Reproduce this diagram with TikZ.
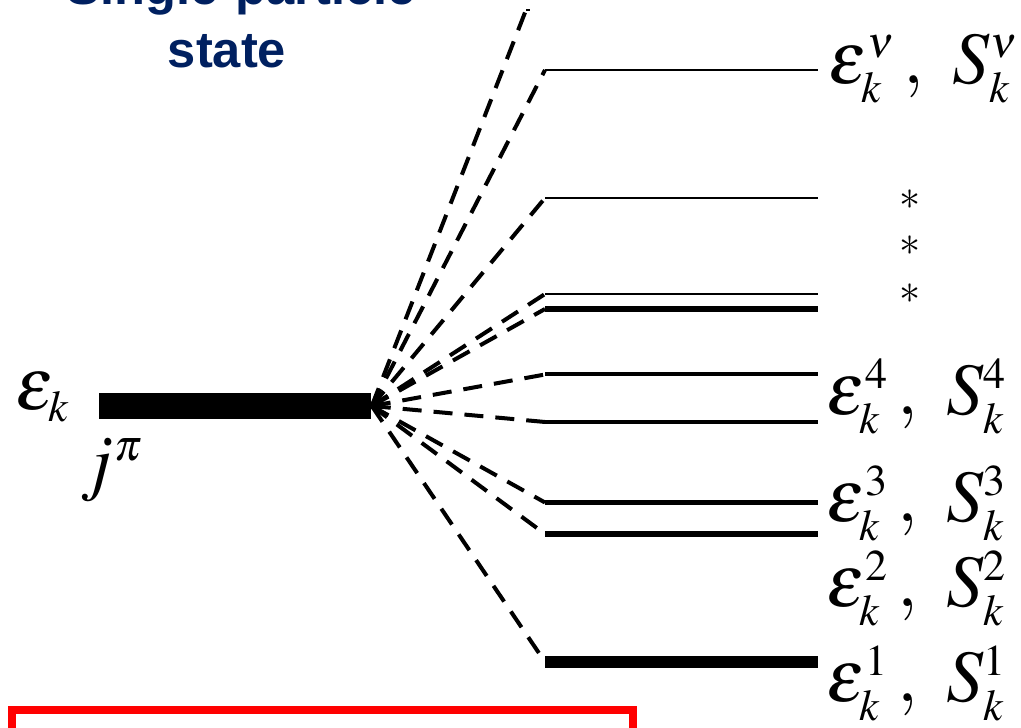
\documentclass[tikz,border=0pt]{standalone}
\usepackage{mathptmx}
\usepackage{fontspec}
\newfontfamily\titlefont{Liberation Sans}
\DeclareMathSizes{21}{21}{12.5}{9}
\definecolor{navy}{RGB}{0,32,96}
\newcommand{\lvlab}[1]{$\varepsilon_k^{#1}\mkern2mu,\mkern5mu S_k^{#1}$}
\begin{document}
\begin{tikzpicture}[x=0.01cm,y=-0.01cm,
  fan/.style={line width=0.04cm, dash pattern=on 0.19cm off 0.12cm},
  lvl/.style={line width=#1},
  lab/.style={font=\fontsize{21}{21}\selectfont, inner sep=0pt},
  star/.style={font=\fontsize{12}{12}\selectfont, inner sep=0pt},
  ttl/.style={font=\titlefont\bfseries\fontsize{14.4}{17}\selectfont, text=navy, inner sep=0pt}]
\clip (0,0) rectangle (1021,728);
% title
\node[ttl, anchor=base] (t1) at (241,5) {Single-particle};
\node[ttl, anchor=base] (t2) at (227,68) {state};
% single-particle level
\node[fill=black, inner sep=0pt, minimum width=2.72cm, minimum height=0.26cm] (bar) at (235,406) {};
\node[lab, anchor=base west] (ek) at (15,410) {$\varepsilon_k$};
\node[lab, anchor=base west] (jp) at (80,487) {$j^{\pi}$};
% top level, cut off at the top edge
\coordinate (L0) at (526,10);
\coordinate (R0) at (530,10);
\draw[fan] (bar.east) -- (L0);
\draw[line width=0.02cm] (L0) -- (R0);
% fragment levels: y, line width
\foreach \n/\y/\w in {1/70/0.02cm, 2/198/0.02cm, 3/294/0.02cm, 4/309/0.055cm, 5/374.5/0.04cm, 6/422/0.04cm, 7/502.5/0.05cm, 8/534/0.06cm, 9/662/0.12cm}{
  \coordinate (L\n) at (545,\y);
  \coordinate (R\n) at (818,\y);
  \draw[fan] (bar.east) -- (L\n);
  \draw[lvl=\w] (L\n) -- (R\n);
}
% labels
\node[lab, anchor=base west] (lnu) at (828,84) {\lvlab{\nu}};
\node[star] (s1) at (910,200) {$\ast$};
\node[star] (s2) at (910,246) {$\ast$};
\node[star] (s3) at (910,294) {$\ast$};
\node[lab, anchor=base west] (l4) at (826,415) {\lvlab{4}};
\node[lab, anchor=base west] (l3) at (826,522) {\lvlab{3}};
\node[lab, anchor=base west] (l2) at (826,607) {\lvlab{2}};
\node[lab, anchor=base west] (l1) at (826,702) {\lvlab{1}};
% red box
\node[draw=red, line width=0.08cm, inner sep=0pt, minimum width=6.21cm, minimum height=1.2cm, anchor=north west] (box) at (8,706) {};
\end{tikzpicture}
\end{document}
